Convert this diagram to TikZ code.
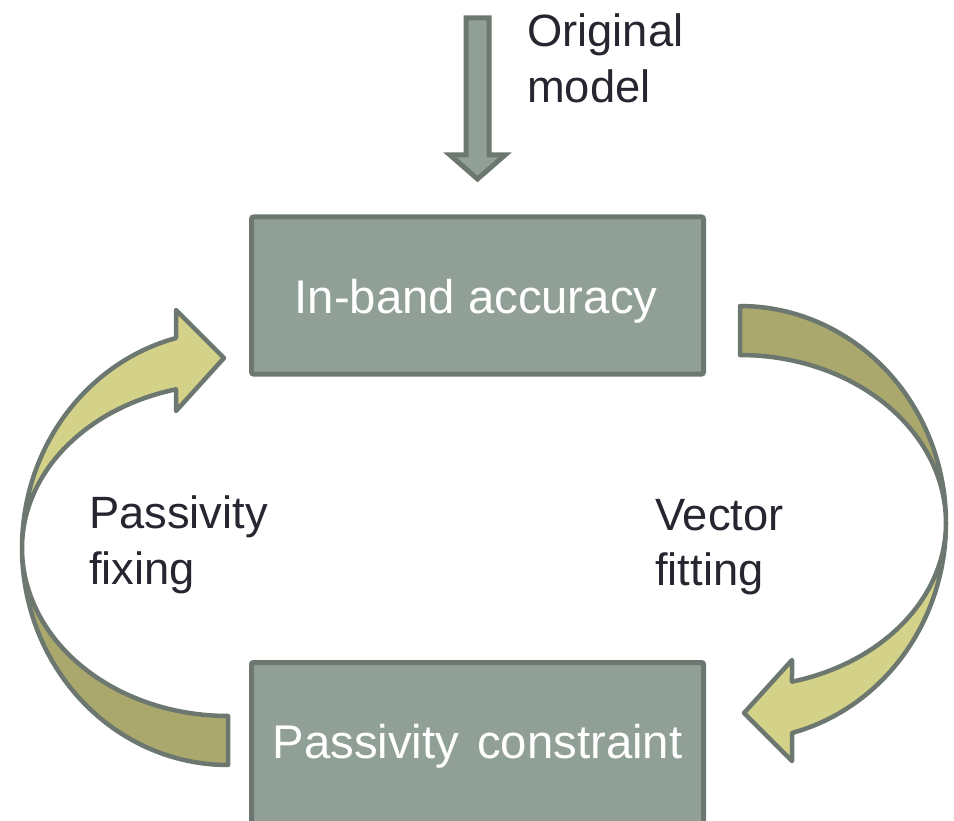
\documentclass[tikz,border=0pt]{standalone}
\usepackage{fontspec}
\setmainfont{Liberation Sans}
\definecolor{boxfill}{HTML}{91A096}
\definecolor{edge}{HTML}{6C786F}
\definecolor{olivedark}{HTML}{ABA86D}
\definecolor{olivelight}{HTML}{D4D288}
\definecolor{labeltext}{HTML}{262630}
\tikzset{
  stagebox/.style={draw=edge, line width=5pt, fill=boxfill, rounded corners=2pt,
    minimum width=452pt, minimum height=157pt, inner sep=0pt},
  boxtext/.style={text=white, inner sep=0pt, font=\fontsize{47.3}{56}\selectfont},
  lbl/.style={text=labeltext, inner sep=0pt, font=\fontsize{45.3}{56}\selectfont},
  blockdark/.style={draw=edge, line width=4.5pt, line join=round, fill=olivedark},
  blocklight/.style={draw=edge, line width=4.5pt, line join=round, fill=olivelight},
  blockgrey/.style={draw=edge, line width=5pt, line join=miter, fill=boxfill},
}
\newcommand{\curvedarrow}{%
  \filldraw[blockdark]
    plot[domain=-90:0, samples=50] ({740+206*cos(\x)},{523+217*sin(\x)})
    -- plot[domain=0:-90, samples=50] ({740+206*cos(\x)},{523+168*sin(\x)})
    -- cycle;
  \filldraw[blocklight]
    plot[domain=0:75.38, samples=50] ({740+206*cos(\x)},{523+217*sin(\x)})
    -- (792,761) -- (744,713) -- (792,660)
    -- plot[domain=75.38:0, samples=50] ({740+206*cos(\x)},{523+164*sin(\x)})
    -- cycle;
}
\begin{document}
\begin{tikzpicture}[x=1pt, y=-1pt]
\useasboundingbox (0,0) rectangle (954,821);

% stage boxes
\node[stagebox] (top) at (477.5,295.5) {};
\node[stagebox, minimum height=200pt] (bottom) at (477.5,762.5) {};
\node[boxtext, anchor=base] (toptext) at (476,313) {In-band accuracy};
\node[boxtext, anchor=base] (bottomtext) at (477.5,758) {Passivity\hspace{5pt} constraint};

% input arrow from above
\filldraw[blockgrey] (466,18) -- (489,18) -- (489,155) -- (505,155) -- (477.5,179)
  -- (450,155) -- (466,155) -- cycle;

% right curved arrow (Vector fitting)
\curvedarrow
% left curved arrow (Passivity fixing): the same shape turned by 180 degrees
\begin{scope}[rotate around={180:(484,535.5)}]
\curvedarrow
\end{scope}

% labels
\node[lbl, anchor=base west] (orig1) at (527,47) {Original};
\node[lbl, anchor=base west] (orig2) at (527,103) {model};
\node[lbl, anchor=base west] (pf1) at (89,528) {Passivity};
\node[lbl, anchor=base west] (pf2) at (89,584) {fixing};
\node[lbl, anchor=base west] (vf1) at (655,530) {Vector};
\node[lbl, anchor=base west] (vf2) at (655,585) {fitting};
\end{tikzpicture}
\end{document}
